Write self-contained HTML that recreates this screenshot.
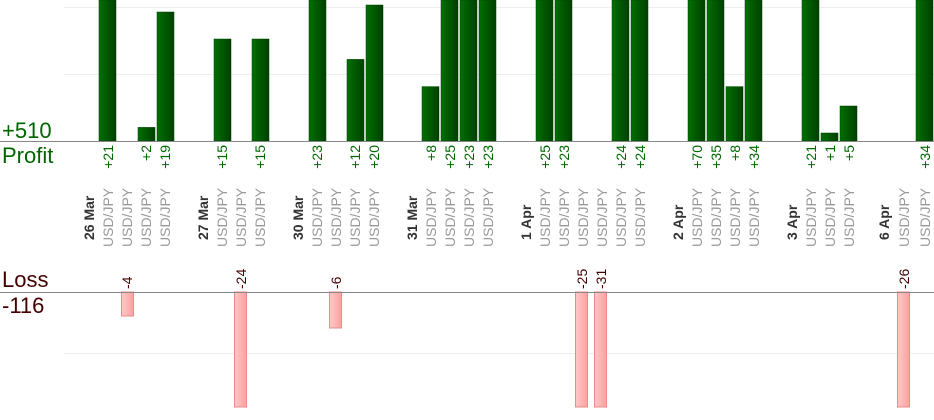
<!DOCTYPE html>
<html><head><meta charset="utf-8"><style>
html,body{margin:0;padding:0;background:#fff;width:934px;height:420px;overflow:hidden}
svg{display:block;font-family:"Liberation Sans",sans-serif}
.v{fill:#060;font-size:14px}
.l{fill:#400;font-size:14px}
.u{fill:#999;font-size:14px}
.d{fill:#333;font-size:14px;font-weight:bold}
</style></head><body>
<svg width="934" height="420" viewBox="0 0 934 420" xmlns="http://www.w3.org/2000/svg">
<defs>
<linearGradient id="g" x1="0" x2="1" y1="0" y2="0"><stop offset="0" stop-color="#007000"/><stop offset="1" stop-color="#004000"/></linearGradient>
<linearGradient id="r" x1="0" x2="1" y1="0" y2="0"><stop offset="0" stop-color="#ffc8c8"/><stop offset="1" stop-color="#ffa0a0"/></linearGradient>
</defs>
<line x1="64" x2="934" y1="7.5" y2="7.5" stroke="#eee"/>
<line x1="64" x2="934" y1="74.5" y2="74.5" stroke="#eee"/>
<line x1="64" x2="934" y1="353.5" y2="353.5" stroke="#eee"/>
<g fill="url(#g)" stroke="#004000" stroke-width="0.5">
<rect x="99" y="0" width="17" height="141"/>
<rect x="138" y="127.4" width="17" height="13.6"/>
<rect x="157" y="12" width="17" height="129"/>
<rect x="214" y="39" width="17" height="102"/>
<rect x="252" y="39" width="17" height="102"/>
<rect x="309" y="0" width="17" height="141"/>
<rect x="347" y="59.4" width="17" height="81.6"/>
<rect x="366" y="5" width="17" height="136"/>
<rect x="422" y="86.6" width="17" height="54.4"/>
<rect x="441" y="0" width="17" height="141"/>
<rect x="460" y="0" width="17" height="141"/>
<rect x="479" y="0" width="17" height="141"/>
<rect x="536" y="0" width="17" height="141"/>
<rect x="555" y="0" width="17" height="141"/>
<rect x="612" y="0" width="17" height="141"/>
<rect x="631" y="0" width="17" height="141"/>
<rect x="688" y="0" width="17" height="141"/>
<rect x="707" y="0" width="17" height="141"/>
<rect x="726" y="86.6" width="17" height="54.4"/>
<rect x="745" y="0" width="17" height="141"/>
<rect x="802" y="0" width="17" height="141"/>
<rect x="821" y="133" width="17" height="8"/>
<rect x="840" y="106" width="17" height="35"/>
<rect x="916" y="0" width="17" height="141"/>
</g>
<g fill="url(#r)" stroke="#e88" stroke-width="1">
<rect x="121.5" y="292" width="12" height="24"/>
<rect x="234.5" y="292" width="12" height="115"/>
<rect x="329.5" y="292" width="12" height="36"/>
<rect x="575.5" y="292" width="12" height="115"/>
<rect x="594.5" y="292" width="12" height="115"/>
<rect x="897.5" y="292" width="12" height="115"/>
</g>
<line x1="0" x2="934" y1="141.5" y2="141.5" stroke="#888"/>
<line x1="0" x2="934" y1="292.5" y2="292.5" stroke="#888"/>
<text x="2" y="138" font-size="22" fill="#060">+510</text>
<text x="2" y="163" font-size="22" fill="#060">Profit</text>
<text x="2" y="287" font-size="22" fill="#400">Loss</text>
<text x="2" y="313" font-size="22" fill="#400">-116</text>
<g class="v" text-anchor="end">
<text transform="translate(113,145) rotate(-90)">+21</text>
<text transform="translate(151,145) rotate(-90)">+2</text>
<text transform="translate(170,145) rotate(-90)">+19</text>
<text transform="translate(227,145) rotate(-90)">+15</text>
<text transform="translate(265,145) rotate(-90)">+15</text>
<text transform="translate(322,145) rotate(-90)">+23</text>
<text transform="translate(360,145) rotate(-90)">+12</text>
<text transform="translate(379,145) rotate(-90)">+20</text>
<text transform="translate(436,145) rotate(-90)">+8</text>
<text transform="translate(455,145) rotate(-90)">+25</text>
<text transform="translate(474,145) rotate(-90)">+23</text>
<text transform="translate(493,145) rotate(-90)">+23</text>
<text transform="translate(550,145) rotate(-90)">+25</text>
<text transform="translate(569,145) rotate(-90)">+23</text>
<text transform="translate(626,145) rotate(-90)">+24</text>
<text transform="translate(645,145) rotate(-90)">+24</text>
<text transform="translate(702,145) rotate(-90)">+70</text>
<text transform="translate(721,145) rotate(-90)">+35</text>
<text transform="translate(740,145) rotate(-90)">+8</text>
<text transform="translate(759,145) rotate(-90)">+34</text>
<text transform="translate(816,145) rotate(-90)">+21</text>
<text transform="translate(835,145) rotate(-90)">+1</text>
<text transform="translate(854,145) rotate(-90)">+5</text>
<text transform="translate(930,145) rotate(-90)">+34</text>
</g>
<g class="l">
<text transform="translate(132,289) rotate(-90)">-4</text>
<text transform="translate(246,289) rotate(-90)">-24</text>
<text transform="translate(341,289) rotate(-90)">-6</text>
<text transform="translate(587,289) rotate(-90)">-25</text>
<text transform="translate(606,289) rotate(-90)">-31</text>
<text transform="translate(909,289) rotate(-90)">-26</text>
</g>
<g class="d">
<text transform="translate(94,240) rotate(-90)">26 Mar</text>
<text transform="translate(208,240) rotate(-90)">27 Mar</text>
<text transform="translate(303,240) rotate(-90)">30 Mar</text>
<text transform="translate(417,240) rotate(-90)">31 Mar</text>
<text transform="translate(531,240) rotate(-90)">1 Apr</text>
<text transform="translate(683,240) rotate(-90)">2 Apr</text>
<text transform="translate(797,240) rotate(-90)">3 Apr</text>
<text transform="translate(889,240) rotate(-90)">6 Apr</text>
</g>
<g class="u">
<text transform="translate(113,247) rotate(-90)">USD/JPY</text>
<text transform="translate(132,247) rotate(-90)">USD/JPY</text>
<text transform="translate(151,247) rotate(-90)">USD/JPY</text>
<text transform="translate(170,247) rotate(-90)">USD/JPY</text>
<text transform="translate(227,247) rotate(-90)">USD/JPY</text>
<text transform="translate(246,247) rotate(-90)">USD/JPY</text>
<text transform="translate(265,247) rotate(-90)">USD/JPY</text>
<text transform="translate(322,247) rotate(-90)">USD/JPY</text>
<text transform="translate(341,247) rotate(-90)">USD/JPY</text>
<text transform="translate(360,247) rotate(-90)">USD/JPY</text>
<text transform="translate(379,247) rotate(-90)">USD/JPY</text>
<text transform="translate(436,247) rotate(-90)">USD/JPY</text>
<text transform="translate(455,247) rotate(-90)">USD/JPY</text>
<text transform="translate(474,247) rotate(-90)">USD/JPY</text>
<text transform="translate(493,247) rotate(-90)">USD/JPY</text>
<text transform="translate(550,247) rotate(-90)">USD/JPY</text>
<text transform="translate(569,247) rotate(-90)">USD/JPY</text>
<text transform="translate(588,247) rotate(-90)">USD/JPY</text>
<text transform="translate(607,247) rotate(-90)">USD/JPY</text>
<text transform="translate(626,247) rotate(-90)">USD/JPY</text>
<text transform="translate(645,247) rotate(-90)">USD/JPY</text>
<text transform="translate(702,247) rotate(-90)">USD/JPY</text>
<text transform="translate(721,247) rotate(-90)">USD/JPY</text>
<text transform="translate(740,247) rotate(-90)">USD/JPY</text>
<text transform="translate(759,247) rotate(-90)">USD/JPY</text>
<text transform="translate(816,247) rotate(-90)">USD/JPY</text>
<text transform="translate(835,247) rotate(-90)">USD/JPY</text>
<text transform="translate(854,247) rotate(-90)">USD/JPY</text>
<text transform="translate(909,247) rotate(-90)">USD/JPY</text>
<text transform="translate(930,247) rotate(-90)">USD/JPY</text>
</g>
</svg>
</body></html>
